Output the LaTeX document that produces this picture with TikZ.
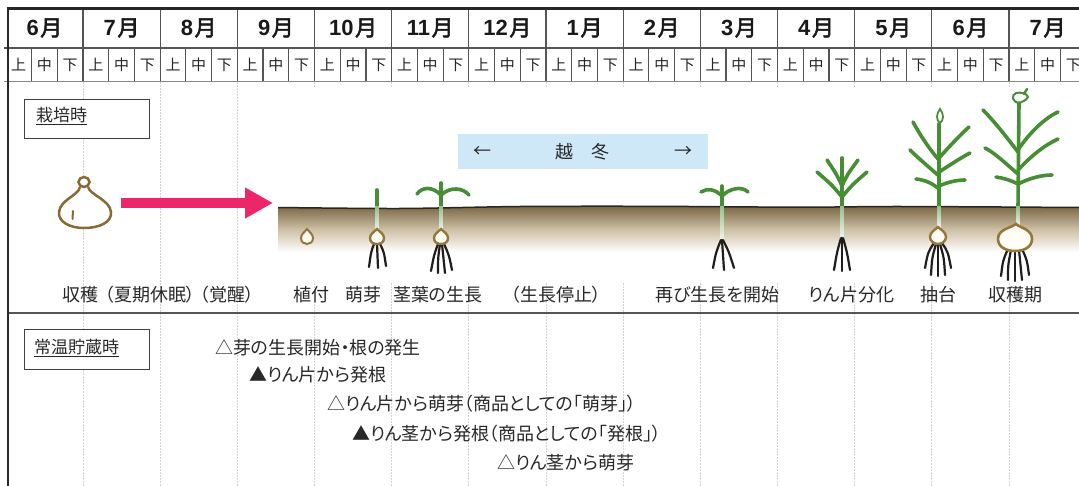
\documentclass[tikz,border=0pt]{standalone}
\usepackage{fontspec}
\setmainfont{Noto Sans CJK JP}[RawFeature=+palt]
\newfontfamily\monthfont{Noto Sans CJK JP}[FakeBold=2.6]
\newfontfamily\numfont{Liberation Sans}
\usetikzlibrary{arrows.meta}

\definecolor{leafgreen}{RGB}{70,142,52}
\definecolor{bulbgold}{RGB}{150,118,58}
\definecolor{bulbfill}{RGB}{255,253,245}
\definecolor{rootblack}{RGB}{30,30,30}
\definecolor{soiltop}{RGB}{122,102,68}
\definecolor{soilmid}{RGB}{204,191,164}
\definecolor{arrowpink}{RGB}{236,38,104}
\definecolor{winterblue}{RGB}{206,232,248}
\definecolor{gridgray}{RGB}{212,212,212}
\definecolor{txt}{RGB}{40,40,40}
\definecolor{hdgray}{RGB}{85,85,85}

\begin{document}
\begin{tikzpicture}[x=1pt, y=-1pt,
  gridline/.style={draw=gridgray, line width=0.8pt, dash pattern=on 2pt off 1pt},
  hdline/.style={draw=hdgray, line width=1.2pt},
  frameline/.style={draw=black!85, line width=2.8pt},
  monthlbl/.style={font=\monthfont\fontsize{22}{24}\selectfont, text=black!90, inner sep=0pt},
  sublbl/.style={font=\fontsize{15}{17}\selectfont, text=black!85, inner sep=0pt},
  lbl/.style={font=\fontsize{18}{20}\selectfont, text=txt, inner sep=0pt},
  tagbox/.style={draw=black!75, line width=0.9pt, fill=white, inner sep=0pt},
  leaf/.style={draw=leafgreen, line width=3.6pt, line cap=round},
  thinleaf/.style={draw=leafgreen, line width=2.4pt, line cap=round},
  root/.style={draw=rootblack, line width=2.2pt, line cap=round},
  bulbline/.style={draw=bulbgold, line width=2.4pt, fill=bulbfill},
  paleStem/.style={top color=leafgreen!55, bottom color=leafgreen!8},
  pinkarrow/.style={draw=arrowpink, line width=10pt, -{Triangle[length=28pt, width=29pt]}}
]
\useasboundingbox (0,0) rectangle (1079,486);
\clip (0,0) rectangle (1079,486);
\fill[white] (0,0) rectangle (1079,486);

% light month grid through the body
\foreach \i in {1,...,13}
  \draw[gridline] ({5.8+77.17*\i},82) -- ({5.8+77.17*\i},486);

% white panel of the field illustration
\fill[white] (278,88) rectangle (1079,282);

% soil with its fading colour and surface line
\shade[top color=soiltop, bottom color=white, middle color=soilmid]
  plot[smooth] coordinates {(278,207.5) (400,208.5) (520,206.5) (650,206.3) (800,207.2) (900,206.5) (1079,207.5)}
  -- (1079,252) -- (278,252) -- cycle;
\draw[black!85, line width=1.5pt]
  plot[smooth] coordinates {(278,207.5) (400,208.5) (520,206.5) (650,206.3) (800,207.2) (900,206.5) (1079,207.5)};

% harvested bulb
\draw[bulbline, draw=bulbgold!90!black, line width=2.5pt, fill=white]
  (80,187) .. controls (79,195) and (60,200) .. (59,212)
  .. controls (58,222) and (70,228) .. (84,228)
  .. controls (100,228) and (112,222) .. (111,212)
  .. controls (110,200) and (90,195) .. (88,187);
\draw[bulbline, draw=bulbgold!90!black, line width=2.5pt, fill=white] (84,182) ellipse [x radius=5.5pt, y radius=5pt];
\draw[draw=bulbgold!90!black, line width=2pt, line cap=round] (73,211) -- (72.5,219);

% planted clove
\draw[bulbline, line width=2pt]
  (307,229) .. controls (309,232) and (313,234) .. (313,238)
  .. controls (313,242) and (310,244) .. (307,244)
  .. controls (304,244) and (301,242) .. (301,238)
  .. controls (301,234) and (305,232) .. (307,229) -- cycle;

% sprouting
\draw[leaf] (377,190) -- (377,207);
\shade[paleStem] (375.2,207) rectangle (378.8,231);
\draw[root] (374,244) .. controls (371,252) .. (369,267);
\draw[root] (377,244) -- (378,268);
\draw[root] (380,244) .. controls (384,252) .. (386,266);
\draw[bulbline]
  (377,229) .. controls (380,232) and (384,234) .. (384,238)
  .. controls (384,242) and (381,244) .. (377,244)
  .. controls (373,244) and (370,242) .. (370,238)
  .. controls (370,234) and (374,232) .. (377,229) -- cycle;

% stem and leaf growth
\draw[leaf] (441,183) -- (441,207);
\draw[leaf] (441,195) .. controls (432,186) and (422,187) .. (417,194);
\draw[leaf] (441,195) .. controls (451,186) and (463,188) .. (469,195);
\shade[paleStem] (439.2,207) rectangle (442.8,231);
\draw[root] (438,244) .. controls (434,255) .. (431,271);
\draw[root] (440,244) .. controls (438,258) .. (438,273);
\draw[root] (442,244) .. controls (444,258) .. (445,273);
\draw[root] (444,244) .. controls (449,255) .. (452,270);
\draw[bulbline]
  (441,229) .. controls (444,232) and (448,234) .. (448,238)
  .. controls (448,242) and (445,244) .. (441,244)
  .. controls (437,244) and (434,242) .. (434,238)
  .. controls (434,234) and (438,232) .. (441,229) -- cycle;

% growth resumes
\draw[leaf] (722,186) -- (722,207);
\draw[leaf] (722,196) .. controls (715,189) and (707,188) .. (701,192);
\draw[leaf] (722,196) .. controls (730,188) and (742,186) .. (748,192);
\shade[paleStem] (720.2,207) rectangle (723.8,240);
\draw[root] (721,240) .. controls (716,252) .. (713,268);
\draw[root] (722,240) .. controls (723,255) .. (724,270);
\draw[root] (723,240) .. controls (729,252) .. (734,268);

% clove differentiation
\draw[leaf] (842,158) -- (842,207);
\draw[leaf] (842,186) .. controls (837,175) .. (827,160);
\draw[leaf] (842,197) .. controls (832,185) .. (817,172);
\draw[leaf] (842,186) .. controls (847,175) .. (858,160);
\draw[leaf] (842,197) .. controls (852,185) .. (867,172);
\shade[paleStem] (840.2,207) rectangle (843.8,238);
\draw[root] (841,238) .. controls (837,252) .. (834,270);
\draw[root] (842,238) -- (842,271);
\draw[root] (843,238) .. controls (847,252) .. (850,270);

% bolting
\draw[leaf] (939,124) -- (939,207);
\draw[draw=leafgreen, line width=1.8pt, fill=white]
  (940,109) .. controls (944,114) and (944,120) .. (940,123)
  .. controls (936,120) and (936,114) .. (940,109) -- cycle;
\draw[leaf] (939,160) .. controls (930,150) and (920,135) .. (913,122);
\draw[leaf] (939,176) .. controls (930,168) and (918,158) .. (910,150);
\draw[leaf] (939,189) .. controls (932,183) and (925,180) .. (916,179);
\draw[leaf] (939,158) .. controls (948,148) and (960,135) .. (969,127);
\draw[leaf] (939,172) .. controls (950,165) and (962,157) .. (970,153);
\draw[leaf] (939,186) .. controls (948,182) and (957,180) .. (965,180);
\shade[paleStem] (937.2,207) rectangle (940.8,228);
\draw[root] (934,243) .. controls (928,252) .. (925,268);
\draw[root] (936,244) .. controls (932,258) .. (931,275);
\draw[root] (938,244) -- (938,276);
\draw[root] (940,244) .. controls (944,258) .. (945,275);
\draw[root] (942,243) .. controls (948,252) .. (951,268);
\draw[bulbline]
  (938,227) .. controls (941,230) and (946,232) .. (946,237)
  .. controls (946,241) and (942,244) .. (938,244)
  .. controls (934,244) and (930,241) .. (930,237)
  .. controls (930,232) and (935,230) .. (938,227) -- cycle;

% harvest time
\draw[draw=leafgreen, line width=2pt, fill=white]
  (1019,103) .. controls (1012,102) and (1011,95) .. (1016,93)
  .. controls (1020,92) and (1027,93) .. (1028,97)
  .. controls (1026,101) and (1021,102) .. (1019,103) -- cycle;
\draw[thinleaf] (1024,94) -- (1027,89);
\draw[leaf] (1019,103) -- (1018,207);
\draw[leaf] (1018,152) .. controls (1005,135) and (993,120) .. (983,110);
\draw[leaf] (1018,174) .. controls (1005,163) and (995,153) .. (985,148);
\draw[leaf] (1018,184) .. controls (1010,180) and (1003,178) .. (996,177);
\draw[leaf] (1018,150) .. controls (1030,132) and (1045,118) .. (1058,112);
\draw[leaf] (1018,170) .. controls (1032,155) and (1045,145) .. (1058,139);
\draw[leaf] (1018,184) .. controls (1030,178) and (1042,175) .. (1052,175);
\shade[paleStem] (1016.2,207) rectangle (1019.8,226);
\draw[root] (1008,249) .. controls (1003,260) .. (1001,276);
\draw[root] (1011,250) .. controls (1008,265) .. (1008,280);
\draw[root] (1015,250) -- (1015,281);
\draw[root] (1019,250) .. controls (1021,265) .. (1022,280);
\draw[root] (1022,249) .. controls (1027,260) .. (1029,275);
\draw[bulbline, line width=2.6pt]
  (1016,224) .. controls (1020,228) and (1032,229) .. (1032,239)
  .. controls (1032,247) and (1024,251) .. (1015,251)
  .. controls (1006,251) and (998,247) .. (998,239)
  .. controls (998,229) and (1011,228) .. (1016,224) -- cycle;

% transplanting arrow
\coordinate (bulbout) at (121,203);
\coordinate (fieldin) at (273,203);
\draw[pinkarrow] (bulbout) -- (fieldin);

% overwintering band
\node[fill=winterblue, minimum width=250pt, minimum height=35pt, inner sep=0pt] (winterband) at (583,151.5) {};
\node[lbl] (winterleft) at (482,152) {←};
\node[lbl] (wintertext) at (582,152) {越　冬};
\node[lbl] (winterright) at (683,152) {→};

% header rows
\foreach \m [count=\i from 0] in {6,7,8,9,10,11,12,1,2,3,4,5,6,7} {
  \node[monthlbl] (month\i) at ({5.8+77.17*(\i+0.5)},28) {{\numfont\bfseries\fontsize{22}{24}\selectfont\m}\hspace{1.5pt}月};
  \foreach \s [count=\k from 0] in {上,中,下}
    \node[sublbl] (sub\i-\k) at ({5.8+77.17*\i+77.17/3*(\k+0.5)},65) {{\s}};
}
\foreach \i in {1,...,13}
  \draw[hdline] ({5.8+77.17*\i},8) -- ({5.8+77.17*\i},81);
\foreach \i in {0,...,13}
  \foreach \k in {1,2}
    \draw[hdline] ({5.8+77.17*\i+77.17/3*\k},48) -- ({5.8+77.17*\i+77.17/3*\k},81);
\draw[hdline] (4,48) -- (1079,48);
\draw[hdline, draw=hdgray!70] (4,81.5) -- (1079,81.5);
\draw[hdline, line width=1.4pt] (8,313) -- (1079,313);
\draw[frameline] (6.6,8.5) -- (1079,8.5);
\draw[frameline] (8,7.1) -- (8,486);

% cultivation stages
\node[tagbox, minimum width=125pt, minimum height=39pt] (cultbox) at (86.5,118.5) {};
\node[lbl, anchor=west, font=\fontsize{17}{19}\selectfont] (culttag) at (36,116) {\underline{栽培時}};
\node[lbl, anchor=west] (lharvest) at (62,295) {収穫\hspace{7pt}（夏期休眠）\hspace{5pt}（覚醒）};
\node[lbl, anchor=west] (lplant) at (293,295) {植付};
\node[lbl, anchor=west] (lsprout) at (345,295) {萌芽};
\node[lbl, anchor=west] (lleaf) at (393,295) {茎葉の生長};
\node[lbl, anchor=west] (lstop) at (511,295) {（生長停止）};
\node[lbl, anchor=west] (lresume) at (655,295) {再び生長を開始};
\node[lbl, anchor=west] (lscale) at (808,295) {りん片分化};
\node[lbl, anchor=west] (lbolt) at (920,295) {抽台};
\node[lbl, anchor=west] (lcrop) at (988,295) {収穫期};

% storage at room temperature
\node[tagbox, minimum width=125pt, minimum height=40pt] (storebox) at (86.5,349.5) {};
\node[lbl, anchor=west, font=\fontsize{17}{19}\selectfont] (storetag) at (34,348) {\underline{常温貯蔵時}};
\node[lbl, anchor=west] (st1) at (215,348) {△芽の生長開始・根の発生};
\node[lbl, anchor=west] (st2) at (249,375) {▲りん片から発根};
\node[lbl, anchor=west] (st3) at (327,404) {△りん片から萌芽（商品としての「萌芽」）};
\node[lbl, anchor=west] (st4) at (352,434) {▲りん茎から発根（商品としての「発根」）};
\node[lbl, anchor=west] (st5) at (497,463) {△りん茎から萌芽};
\end{tikzpicture}
\end{document}
